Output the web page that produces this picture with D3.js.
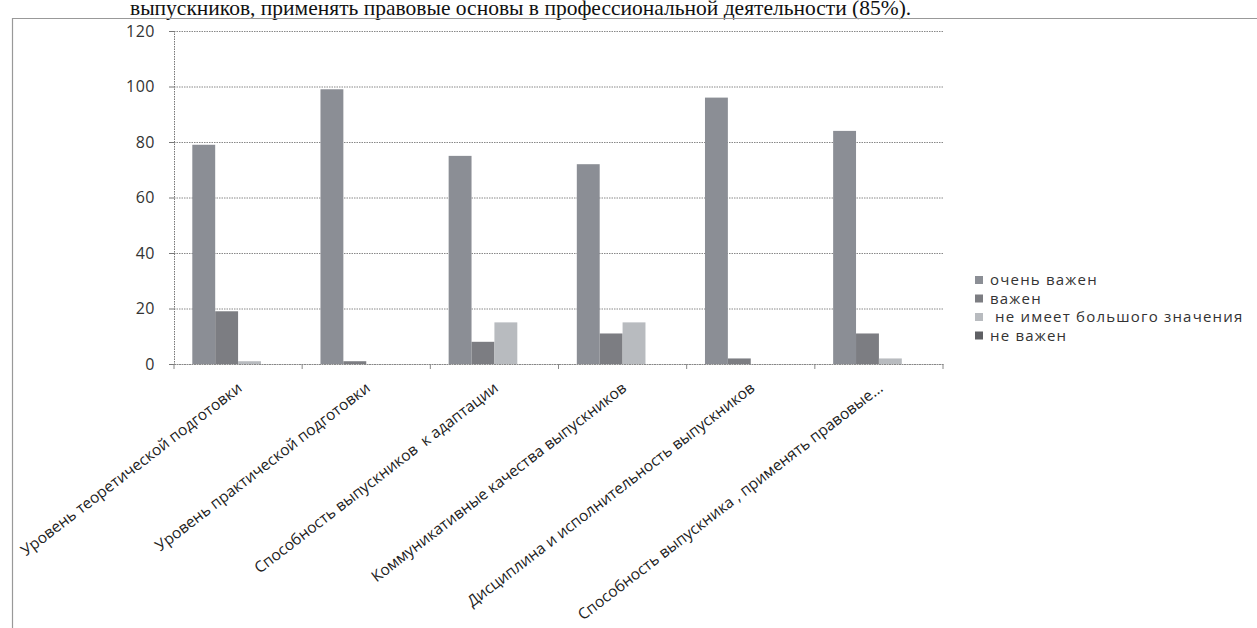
<!DOCTYPE html>
<html>
<head>
<meta charset="utf-8">
<script src="https://cdnjs.cloudflare.com/ajax/libs/d3/7.8.5/d3.min.js"></script>
<style>
  body { margin: 0; background: #fff; }
  svg { display: block; }
</style>
</head>
<body>
<svg id="chart" width="1257" height="628"></svg>
<script>
const categories = [
  'Уровень теоретической подготовки',
  'Уровень практической подготовки',
  'Способность выпускников  к адаптации',
  'Коммуникативные качества выпускников',
  'Дисциплина и исполнительность выпускников',
  'Способность выпускника , применять правовые...'
];
const seriesNames = ['очень важен', 'важен', ' не имеет большого значения', 'не важен'];
const veryImportant = [79, 99, 75, 72, 96, 84];
const important = [19, 1, 8, 11, 2, 11];
const littleMeaning = [1, 0, 15, 15, 0, 2];
const notImportant = [0, 0, 0, 0, 0, 0];
const yTicks = [0, 20, 40, 60, 80, 100, 120];
const colors = ['#8b8e95', '#7c7d82', '#b8bbbf', '#5f6064'];

const series = [veryImportant, important, littleMeaning, notImportant];

const svg = d3.select('#chart');
const margin = { left: 174, right: 314, top: 31, bottom: 264 };
const width = 1257;
const height = 628;

// frame round the figure and the line of text above it
svg.append('text')
  .attr('x', 130)
  .attr('y', 15)
  .attr('font-family', 'Liberation Serif, serif')
  .attr('font-size', 21.5)
  .attr('fill', '#111')
  .text('выпускников, применять правовые основы в профессиональной деятельности (85%).');

svg.append('path')
  .attr('d', `M12.5,${height} V18.5 H${width}`)
  .attr('fill', 'none')
  .attr('stroke', '#999')
  .attr('stroke-width', 1.2);

const x = d3.scaleBand()
  .domain(categories)
  .range([margin.left, width - margin.right]);

const xInner = d3.scaleBand()
  .domain(d3.range(series.length))
  .range([0, x.bandwidth()])
  .paddingOuter(0.8);

const y = d3.scaleLinear()
  .domain([0, 120])
  .range([height - margin.bottom, margin.top]);

// gridlines
svg.append('g')
  .selectAll('line')
  .data(yTicks)
  .enter()
  .append('line')
  .attr('x1', margin.left)
  .attr('x2', width - margin.right)
  .attr('y1', (d) => y(d) + 0.5)
  .attr('y2', (d) => y(d) + 0.5)
  .attr('stroke', '#888')
  .attr('stroke-dasharray', '1.5,1')
  .attr('stroke-width', 1);

// bars
const groups = svg.append('g')
  .selectAll('g')
  .data(categories)
  .enter()
  .append('g')
  .attr('transform', (d) => `translate(${x(d)},0)`);

groups.selectAll('rect')
  .data((d, i) => series.map((s, k) => ({ k, v: s[i] })))
  .enter()
  .append('rect')
  .attr('x', (d) => xInner(d.k))
  .attr('width', xInner.bandwidth())
  .attr('y', (d) => y(d.v))
  .attr('height', (d) => y(0) - y(d.v))
  .attr('fill', (d) => colors[d.k]);

// y axis
const yAxis = svg.append('g')
  .attr('transform', `translate(${margin.left},0)`)
  .call(d3.axisLeft(y).tickValues(yTicks).tickSize(5).tickPadding(14));
yAxis.select('.domain').attr('stroke', '#777').attr('stroke-dasharray', '1.5,1');
yAxis.selectAll('.tick line').attr('stroke', '#777');
yAxis.selectAll('.tick text')
  .attr('font-family', 'Open Sans, sans-serif')
  .attr('font-size', 16)
  .attr('letter-spacing', 0.5)
  .attr('fill', '#333');

// x axis
const xAxis = svg.append('g')
  .attr('transform', `translate(0,${y(0)})`)
  .call(d3.axisBottom(x).tickSize(0).tickFormat(''));
xAxis.select('.domain').attr('stroke', '#888').attr('stroke-dasharray', '1.5,1');

svg.append('g')
  .selectAll('line')
  .data(d3.range(categories.length + 1))
  .enter()
  .append('line')
  .attr('x1', (i) => margin.left + i * x.bandwidth())
  .attr('x2', (i) => margin.left + i * x.bandwidth())
  .attr('y1', y(0))
  .attr('y2', y(0) + 5)
  .attr('stroke', '#888');

svg.append('g')
  .selectAll('text')
  .data(categories)
  .enter()
  .append('text')
  .attr('transform', (d) => `translate(${x(d) + x.bandwidth() / 2 + 5},${y(0) + 26}) rotate(-37.5)`)
  .attr('text-anchor', 'end')
  .attr('font-family', 'Open Sans, sans-serif')
  .attr('font-size', 15.5)
  .attr('fill', '#222')
  .attr('xml:space', 'preserve')
  .text((d) => d);

// legend
const legend = svg.append('g')
  .attr('transform', 'translate(975,280)')
  .selectAll('g')
  .data(seriesNames)
  .enter()
  .append('g')
  .attr('transform', (d, i) => `translate(0,${i * 18.5})`);

legend.append('rect')
  .attr('width', 8)
  .attr('height', 8)
  .attr('y', -4)
  .attr('fill', (d, i) => colors[i]);

legend.append('text')
  .attr('x', 15)
  .attr('dy', '0.35em')
  .attr('font-family', 'Open Sans, sans-serif')
  .attr('font-size', 15)
  .attr('letter-spacing', 1.2)
  .attr('fill', '#333')
  .attr('xml:space', 'preserve')
  .text((d) => d);
</script>
</body>
</html>
